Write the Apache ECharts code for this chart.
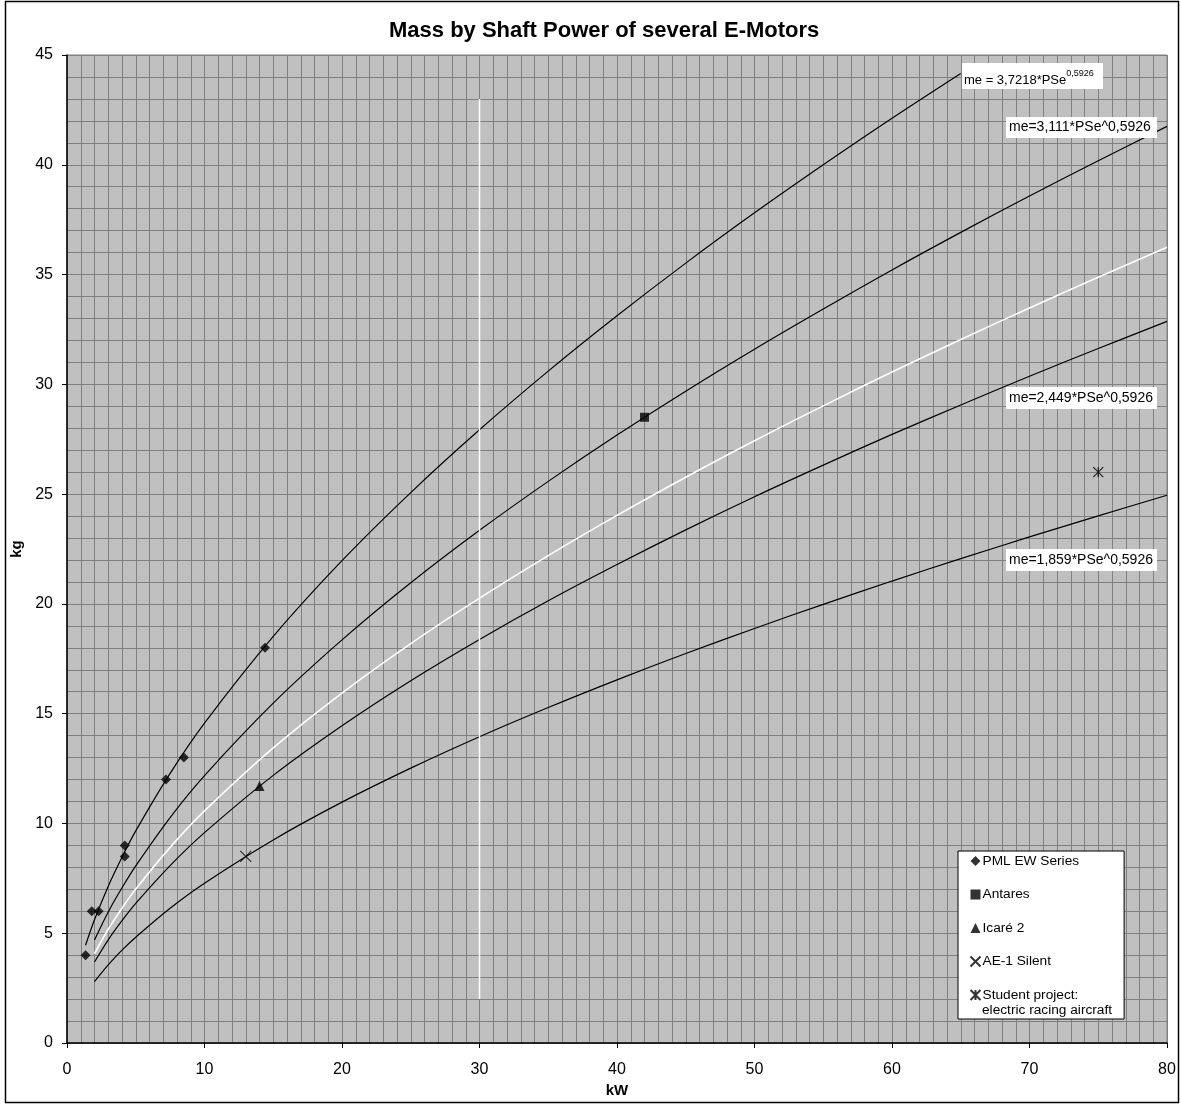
<!DOCTYPE html>
<html>
<head>
<meta charset="utf-8">
<script src="https://cdn.jsdelivr.net/npm/echarts@6/dist/echarts.min.js"></script>
<style>
html,body{margin:0;padding:0;background:#fff;}
#chart{width:1181px;height:1104px;}
</style>
</head>
<body>
<div id="chart"></div>
<script>
// ---- data ----
var titleText = 'Mass by Shaft Power of several E-Motors';
var xTicks = [0, 10, 20, 30, 40, 50, 60, 70, 80];
var yTicks = [0, 5, 10, 15, 20, 25, 30, 35, 40, 45];

// curve sample points (kW)
var curveTopP = [1.35, 2, 3, 4, 5, 7.5, 10, 15, 20, 25, 30, 35, 40, 45, 50, 55, 60, 65];
var curveTopM = [4.45, 5.61, 7.14, 8.46, 9.66, 12.28, 14.57, 18.52, 21.97, 25.07, 27.93, 30.60, 33.12, 35.52, 37.81, 40.00, 42.12, 44.16];

var curveP = [2, 3, 4, 5, 7.5, 10, 15, 20, 25, 30, 35, 40, 45, 50, 55, 60, 65, 70, 75, 80];
var curve3111M = [4.69, 5.97, 7.07, 8.07, 10.27, 12.18, 15.48, 18.36, 20.96, 23.35, 25.58, 27.69, 29.69, 31.60, 33.43, 35.21, 36.92, 38.58, 40.18, 41.75];
var curveWhiteM = [4.07, 5.18, 6.14, 7.01, 8.91, 10.57, 13.44, 15.94, 18.19, 20.26, 22.20, 24.03, 25.77, 27.43, 29.02, 30.56, 32.04, 33.48, 34.88, 36.24];
var curve2449M = [3.69, 4.70, 5.57, 6.36, 8.08, 9.58, 12.19, 14.45, 16.50, 18.38, 20.14, 21.79, 23.37, 24.88, 26.32, 27.72, 29.06, 30.37, 31.63, 32.87];
var curve1859M = [2.80, 3.56, 4.23, 4.82, 6.14, 7.28, 9.25, 10.97, 12.52, 13.95, 15.28, 16.54, 17.74, 18.88, 19.98, 21.04, 22.06, 23.05, 24.01, 24.95];

var markerLineP = [30, 30];
var markerLineM = [2, 43];

var pmlP = [1.35, 1.8, 2.3, 4.2, 4.2, 7.2, 8.5, 14.4];
var pmlM = [4, 6, 6, 9, 8.5, 12, 13, 18];
var antaresP = [42];
var antaresM = [28.5];
var icareP = [14];
var icareM = [11.7];
var ae1P = [13];
var ae1M = [8.5];
var studentP = [75];
var studentM = [26];

var seriesNames = ['PML EW Series', 'Antares', 'Icaré 2', 'AE-1 Silent', 'Student project:'];
var legendSecondLine = 'electric racing aircraft';
var curveLabels = ['me = 3,7218*PSe', '0,5926', 'me=3,111*PSe^0,5926', 'me=2,449*PSe^0,5926', 'me=1,859*PSe^0,5926'];

function zip(a, b) { return a.map(function (v, i) { return [v, b[i]]; }); }

var FONT = '"Liberation Sans", Arial, sans-serif';
var chart = echarts.init(document.getElementById('chart'), null, {renderer: 'canvas'});

function curve(data, color, width) {
  return {
    type: 'line', data: data, showSymbol: false, symbol: 'none', smooth: 0.35,
    lineStyle: {color: color, width: width}, silent: true, z: 3,
    legendHoverLink: false
  };
}

var xPath = 'path://M0,0L10,10M10,0L0,10';
var starPath = 'path://M0,0L10,10M10,0L0,10M5,0L5,10';

var option = {
  animation: false,
  backgroundColor: '#ffffff',
  title: {
    text: titleText, left: 384, top: 15,
    textStyle: {fontFamily: FONT, fontSize: 22, fontWeight: 'bold', color: '#000'}
  },
  grid: {
    left: 67, top: 55, width: 1100, height: 988,
    show: true, backgroundColor: '#c0c0c0', borderColor: '#808080', borderWidth: 1
  },
  xAxis: {
    type: 'value', min: 0, max: 80, interval: 10,
    name: 'kW', nameLocation: 'middle', nameGap: 37,
    nameTextStyle: {fontFamily: FONT, fontSize: 15, fontWeight: 'bold', color: '#000'},
    axisLine: {show: true, onZero: false, lineStyle: {color: '#000', width: 1.5}},
    axisTick: {show: true, inside: false, length: 5, lineStyle: {color: '#000'}},
    axisLabel: {fontFamily: FONT, fontSize: 16, color: '#000', margin: 19},
    splitLine: {show: true, lineStyle: {color: '#808080', width: 1}},
    minorTick: {show: false, splitNumber: 10},
    minorSplitLine: {show: true, lineStyle: {color: '#808080', width: 1}}
  },
  yAxis: {
    type: 'value', min: 0, max: 45, interval: 5,
    name: 'kg', nameLocation: 'middle', nameGap: 35, nameRotate: 90,
    nameTextStyle: {fontFamily: FONT, fontSize: 15, fontWeight: 'bold', color: '#000'},
    axisLine: {show: true, onZero: false, lineStyle: {color: '#000', width: 1.5}},
    axisTick: {show: true, inside: false, length: 5, lineStyle: {color: '#000'}},
    axisLabel: {fontFamily: FONT, fontSize: 16, color: '#000', margin: 14},
    splitLine: {show: true, lineStyle: {color: '#808080', width: 1}},
    minorTick: {show: false, splitNumber: 5},
    minorSplitLine: {show: true, lineStyle: {color: '#808080', width: 1}}
  },
  legend: {
    data: seriesNames,
    orient: 'vertical', left: 958, top: 851,
    backgroundColor: '#ffffff', borderColor: '#000', borderWidth: 1,
    padding: [2.5, 45, 16.5, 10],
    itemWidth: 10, itemHeight: 10, itemGap: 18.5,
    textStyle: {fontFamily: FONT, fontSize: 13.7, color: '#000', lineHeight: 15, padding: [0, 0, 0, -3]},
    selectedMode: false
  },
  series: [
    curve(zip(curveTopP, curveTopM), '#000', 1.2),
    curve(zip(curveP, curve3111M), '#000', 1.2),
    curve(zip(curveP, curveWhiteM), '#ffffff', 1.6),
    curve(zip(curveP, curve2449M), '#000', 1.2),
    curve(zip(curveP, curve1859M), '#000', 1.2),
    {type: 'line', data: zip(markerLineP, markerLineM), showSymbol: false, symbol: 'none',
     lineStyle: {color: '#ffffff', width: 1.5}, silent: true, z: 3},
    {name: seriesNames[0], type: 'scatter', data: zip(pmlP, pmlM), symbol: 'diamond', symbolSize: 10,
     itemStyle: {color: '#000'}, z: 5},
    {name: seriesNames[1], type: 'scatter', data: zip(antaresP, antaresM), symbol: 'rect', symbolSize: 9,
     itemStyle: {color: '#000'}, z: 5},
    {name: seriesNames[2], type: 'scatter', data: zip(icareP, icareM), symbol: 'triangle', symbolSize: 10,
     itemStyle: {color: '#000'}, z: 5},
    {name: seriesNames[3], type: 'scatter', data: zip(ae1P, ae1M), symbol: xPath, symbolSize: 11,
     itemStyle: {color: 'none', borderColor: '#000', borderWidth: 1.1}, z: 5},
    {name: seriesNames[4], type: 'scatter', data: zip(studentP, studentM), symbol: starPath, symbolSize: 10,
     itemStyle: {color: 'none', borderColor: '#000', borderWidth: 1.3}, z: 5}
  ],
  graphic: [
    {type: 'rect', z: 100, shape: {x: 5.5, y: 1.5, width: 1173, height: 1101},
     style: {fill: 'none', stroke: '#000', lineWidth: 1.5}, silent: true},
    {type: 'text', z: 101, x: 982, y: 1010,
     style: {text: legendSecondLine, font: '13.7px ' + FONT, fill: '#000', verticalAlign: 'middle'}},
    {type: 'rect', z: 100, shape: {x: 962, y: 63, width: 141, height: 26}, style: {fill: '#fff'}, silent: true},
    {type: 'text', z: 101, x: 964, y: 69,
     style: {text: '{a|' + curveLabels[0] + '}{s|' + curveLabels[1] + '}',
       rich: {a: {fontFamily: FONT, fontSize: 13, fill: '#000', verticalAlign: 'bottom', lineHeight: 18},
              s: {fontFamily: FONT, fontSize: 9, fill: '#000', verticalAlign: 'top', lineHeight: 18}}}},
    {type: 'rect', z: 100, shape: {x: 1006, y: 117, width: 151, height: 21}, style: {fill: '#fff'}, silent: true},
    {type: 'text', z: 101, x: 1009, y: 127.5,
     style: {text: curveLabels[2], font: '14px ' + FONT, fill: '#000', verticalAlign: 'middle'}},
    {type: 'rect', z: 100, shape: {x: 1006, y: 387, width: 151, height: 22}, style: {fill: '#fff'}, silent: true},
    {type: 'text', z: 101, x: 1009, y: 398,
     style: {text: curveLabels[3], font: '14px ' + FONT, fill: '#000', verticalAlign: 'middle'}},
    {type: 'rect', z: 100, shape: {x: 1006, y: 549, width: 151, height: 22}, style: {fill: '#fff'}, silent: true},
    {type: 'text', z: 101, x: 1009, y: 560,
     style: {text: curveLabels[4], font: '14px ' + FONT, fill: '#000', verticalAlign: 'middle'}}
  ]
};
chart.setOption(option);
</script>
</body>
</html>
